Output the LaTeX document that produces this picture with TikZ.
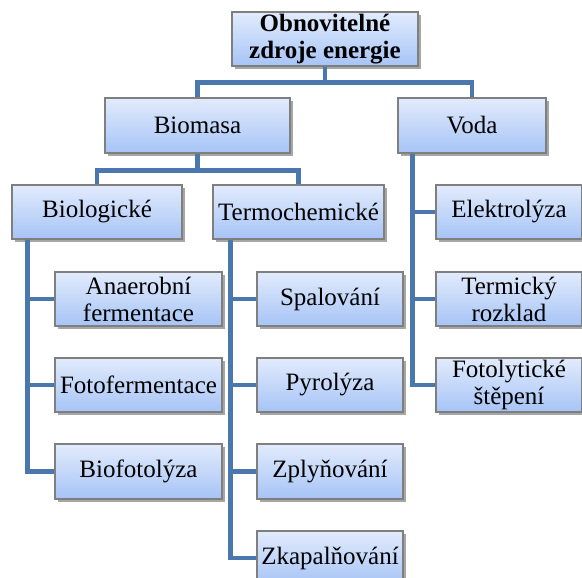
\documentclass[tikz,border=0pt]{standalone}
\usepackage{fontspec}
\setmainfont{Liberation Serif}
\newfontfamily\serif{Liberation Serif}
\usetikzlibrary{shadows}
\definecolor{boxtop}{HTML}{E2EBFC}
\definecolor{boxbot}{HTML}{A6C4F6}
\definecolor{boxline}{HTML}{7F7F7F}
\definecolor{conn}{HTML}{4A77AD}
\tikzset{
  box/.style={draw=boxline, line width=1.2pt, top color=boxtop, bottom color=boxbot,
    inner sep=0pt, align=center, font=\serif\fontsize{25}{27}\selectfont,
    drop shadow={shadow xshift=2.5pt, shadow yshift=-3pt, fill=black, opacity=0.35}},
  link/.style={draw=conn, line width=4.2pt}
}
\begin{document}
\begin{tikzpicture}[x=1pt,y=-1pt]
\useasboundingbox (0,0) rectangle (582,578);
\begin{scope}
\clip (0,0) rectangle (582,578);
% level 0
\node[box, minimum width=186pt, minimum height=54pt, font=\serif\bfseries\fontsize{25}{27}\selectfont] (top) at (325,39) {Obnovitelné\\zdroje energie};
% level 1
\node[box, minimum width=185pt, minimum height=55pt] (bio) at (197.5,125.5) {Biomasa};
\node[box, minimum width=148pt, minimum height=55pt] (voda) at (472,125.5) {Voda};
% level 2
\node[box, minimum width=170pt, minimum height=54pt] (biol) at (97,212) {Biologické};
\node[box, minimum width=171pt, minimum height=54pt] (termo) at (298.5,212) {Termochemické};
% Biologické children
\node[box, minimum width=167pt, minimum height=54pt] (anaer) at (138.5,299) {Anaerobní\\fermentace};
\node[box, minimum width=167pt, minimum height=54pt] (fotof) at (138.5,385) {Fotofermentace};
\node[box, minimum width=167pt, minimum height=55pt] (biof) at (138.5,471.5) {Biofotolýza};
% Termochemické children
\node[box, minimum width=146pt, minimum height=54pt] (spal) at (330,299) {Spalování};
\node[box, minimum width=146pt, minimum height=54pt] (pyro) at (330,385) {Pyrolýza};
\node[box, minimum width=146pt, minimum height=55pt] (zply) at (330,471.5) {Zplyňování};
\node[box, minimum width=146pt, minimum height=54pt] (zkap) at (330,558) {Zkapalňování};
% Voda children
\node[box, minimum width=146pt, minimum height=54pt] (elek) at (509,212) {Elektrolýza};
\node[box, minimum width=146pt, minimum height=54pt] (term) at (509,299) {Termický\\rozklad};
\node[box, minimum width=146pt, minimum height=54pt] (foto) at (509,385) {Fotolytické\\štěpení};
\end{scope}
% connectors
\coordinate (j0) at ([yshift=-16pt]top.south);
\coordinate (j1) at ([yshift=-17pt]bio.south);
\draw[link] (top.south) -- (j0) -| (bio.north);
\draw[link] (j0) -| (voda.north);
\draw[link] (bio.south) -- (j1) -| (biol.north);
\draw[link] (j1) -| (termo.north);
\coordinate (sb) at ([xshift=16pt]biol.south west);
\coordinate (st) at ([xshift=18pt]termo.south west);
\coordinate (sv) at ([xshift=15pt]voda.south west);
\draw[link] (sb) |- (biof.west);
\draw[link] (sb |- anaer.west) -- (anaer.west);
\draw[link] (sb |- fotof.west) -- (fotof.west);
\draw[link] (st) |- (zkap.west);
\draw[link] (st |- spal.west) -- (spal.west);
\draw[link] (st |- pyro.west) -- (pyro.west);
\draw[link] (st |- zply.west) -- (zply.west);
\draw[link] (sv) |- (foto.west);
\draw[link] (sv |- elek.west) -- (elek.west);
\draw[link] (sv |- term.west) -- (term.west);
\end{tikzpicture}
\end{document}
